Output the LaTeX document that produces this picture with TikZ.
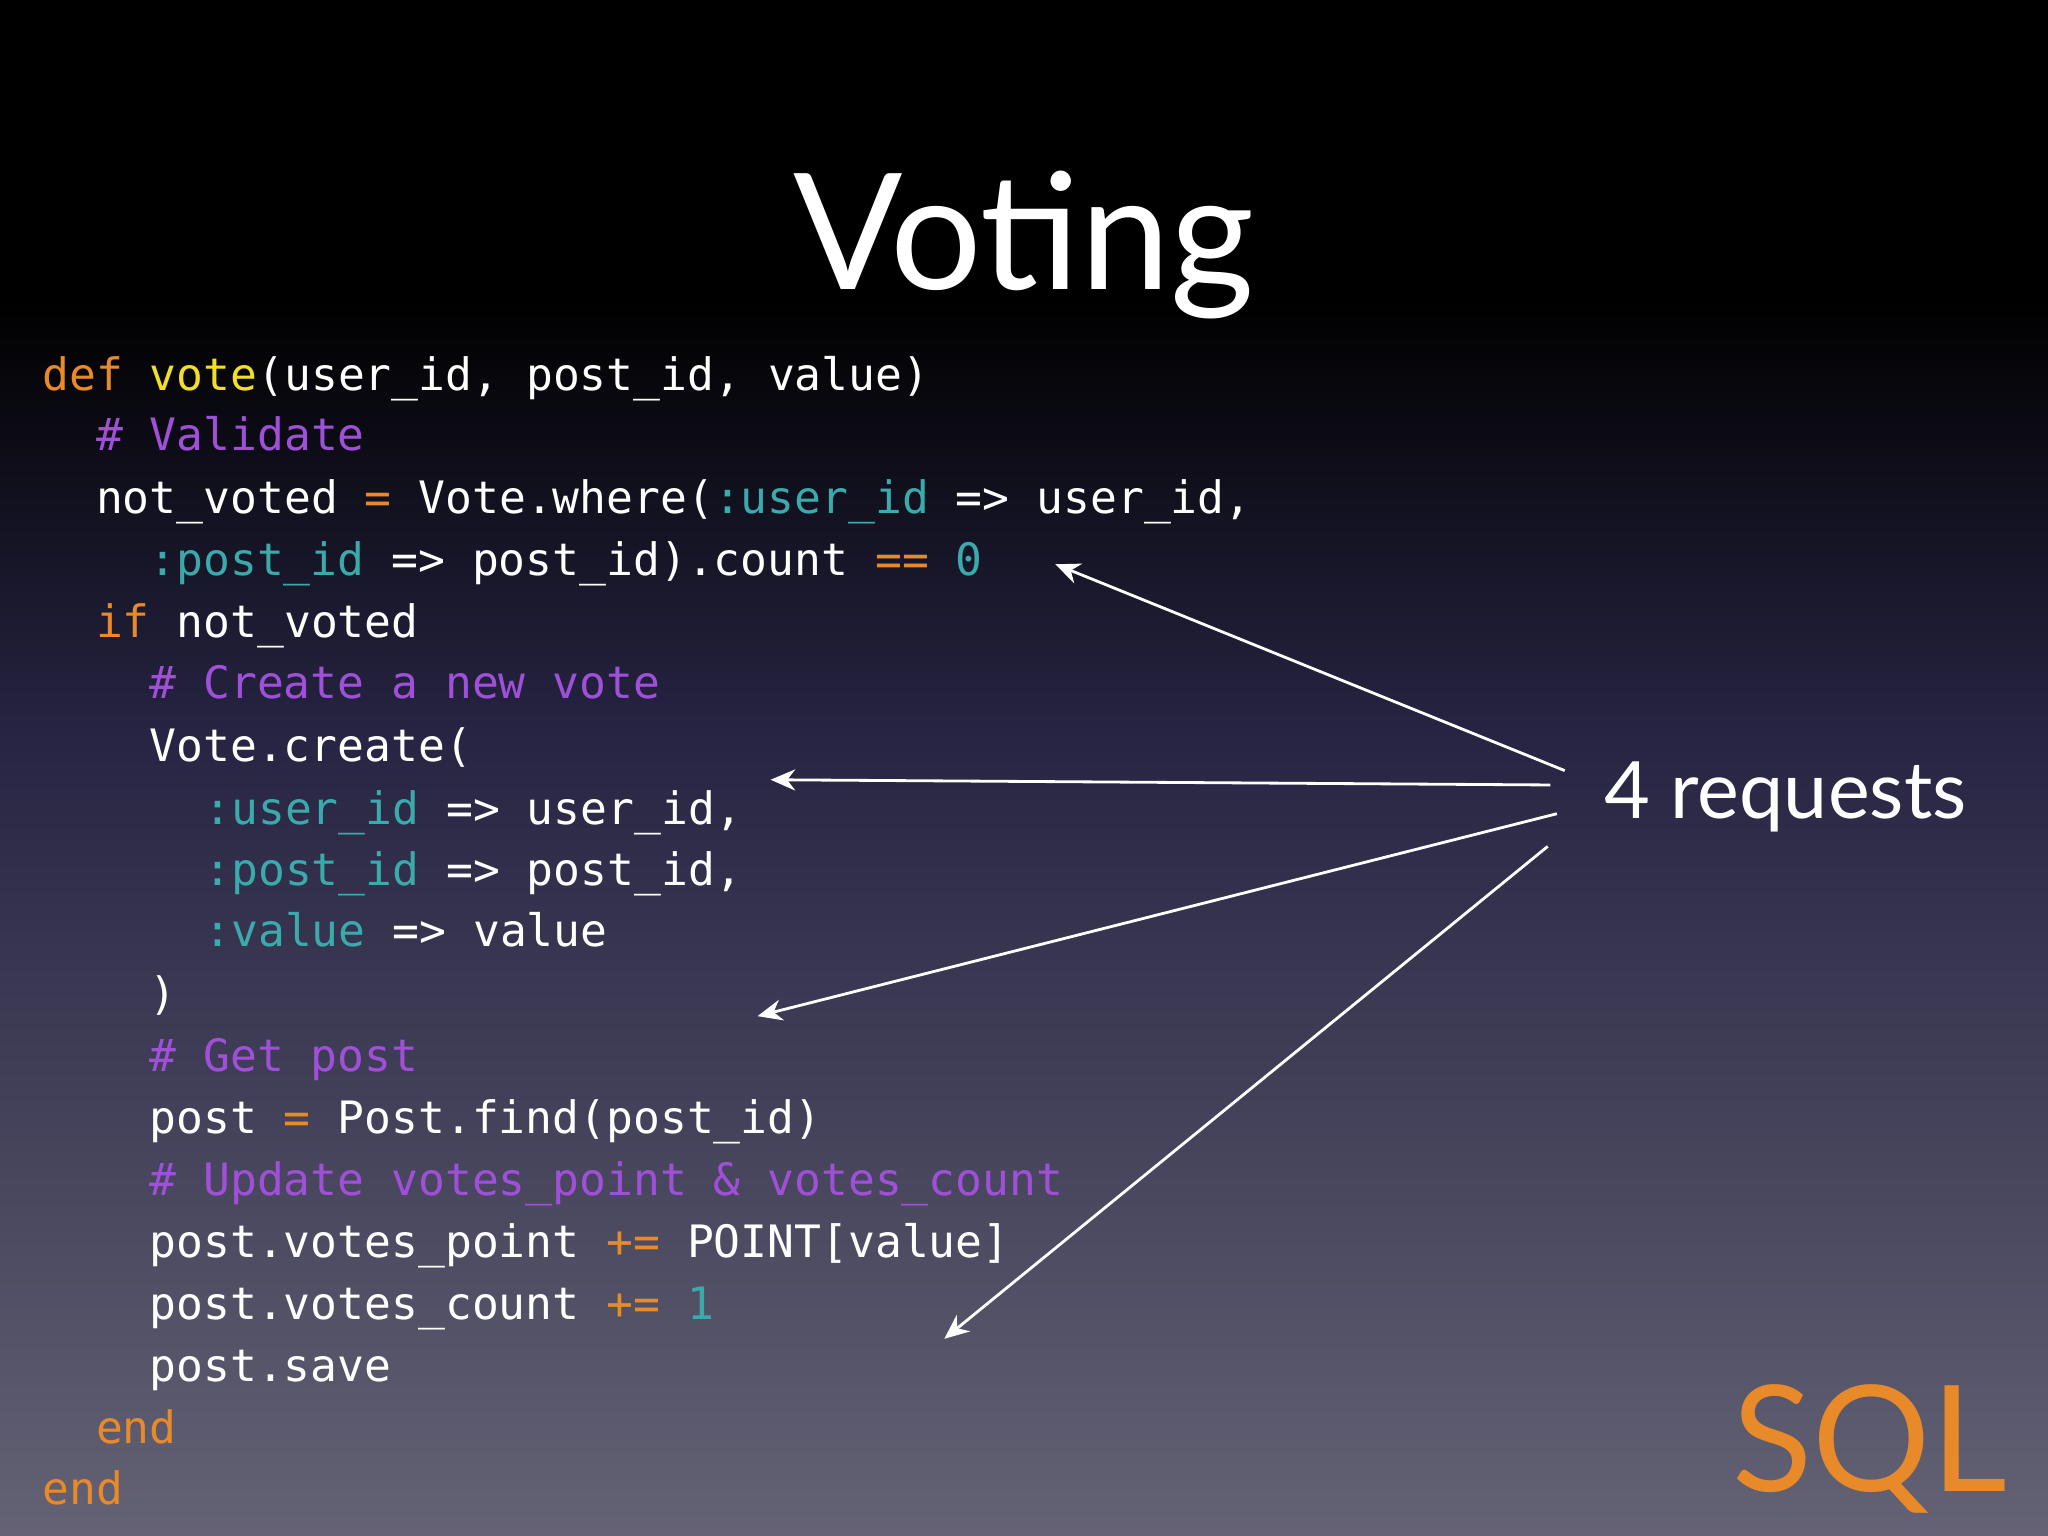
\documentclass[tikz,border=0pt]{standalone}
\usepackage{fontspec}
\setmainfont{Lato}
\setmonofont{DejaVu Sans Mono}
\usetikzlibrary{arrows.meta}
\definecolor{kw}{RGB}{232,137,42}
\definecolor{fn}{RGB}{240,222,40}
\definecolor{cm}{RGB}{160,80,216}
\definecolor{sy}{RGB}{58,170,170}
\definecolor{bgmid}{RGB}{38,36,66}
\definecolor{bgbot}{RGB}{100,98,116}
\newcommand{\K}[1]{\textcolor{kw}{#1}}
\newcommand{\F}[1]{\textcolor{fn}{#1}}
\newcommand{\C}[1]{\textcolor{cm}{#1}}
\newcommand{\Y}[1]{\textcolor{sy}{#1}}
\tikzset{code/.style={anchor=base west,inner sep=0pt,text=white,font=\ttfamily\fontsize{12.7}{14}\selectfont},
 arr/.style={draw=white,line width=0.8pt,-{Stealth[length=7pt,width=6pt]}}}
\begin{document}
\begin{tikzpicture}[x=0.013061cm,y=-0.013061cm]
\useasboundingbox (0,0) rectangle (1568,1176);
\fill[black] (0,0) rectangle (1568,230);
\shade[top color=black,bottom color=bgmid] (0,229) rectangle (1568,560);
\shade[top color=bgmid,bottom color=bgbot] (0,559) rectangle (1568,1176);
\node[text=white,font=\fontsize{46}{50}\selectfont,anchor=base] (title) at (784,222) {Voting};
\node[code] (l1) at (32,299) {\K{def} \F{vote}(user\_id, post\_id, value)};
\node[code] (l2) at (73,345) {\C{\# Validate}};
\node[code] (l3) at (73,393) {not\_voted \K{=} Vote.where(\Y{:user\_id} => user\_id,};
\node[code] (l4) at (114,441) {\Y{:post\_id} => post\_id).count \K{==} \Y{0}};
\node[code] (l5) at (73,488) {\K{if} not\_voted};
\node[code] (l6) at (114,535) {\C{\# Create a new vote}};
\node[code] (l7) at (114,583) {Vote.create(};
\node[code] (l8) at (156,631) {\Y{:user\_id} => user\_id,};
\node[code] (l9) at (156,678) {\Y{:post\_id} => post\_id,};
\node[code] (l10) at (156,725) {\Y{:value} => value};
\node[code] (l11) at (114,773) {)};
\node[code] (l12) at (114,820) {\C{\# Get post}};
\node[code] (l13) at (114,868) {post \K{=} Post.find(post\_id)};
\node[code] (l14) at (114,915) {\C{\# Update votes\_point \& votes\_count}};
\node[code] (l15) at (114,963) {post.votes\_point \K{+=} POINT[value]};
\node[code] (l16) at (114,1010) {post.votes\_count \K{+=} \Y{1}};
\node[code] (l17) at (114,1058) {post.save};
\node[code] (l18) at (73,1105) {\K{end}};
\node[code] (l19) at (32,1152) {\K{end}};
\node[text=white,font=\fontsize{22.5}{26}\selectfont,anchor=west,inner sep=0pt] (req) at (1228,610) {4 requests};
\node[text=kw,font=\fontsize{42}{46}\selectfont,anchor=base east,inner sep=0pt] (sql) at (1537,1142) {SQL};
\coordinate (s1) at (1198,590); \coordinate (e1) at (808,432);
\coordinate (s2) at (1187,601); \coordinate (e2) at (590,597);
\coordinate (s3) at (1192,623); \coordinate (e3) at (580,778);
\coordinate (s4) at (1185,648); \coordinate (e4) at (723,1025);
\draw[arr] (s1) -- (e1);
\draw[arr] (s2) -- (e2);
\draw[arr] (s3) -- (e3);
\draw[arr] (s4) -- (e4);
\end{tikzpicture}
\end{document}
